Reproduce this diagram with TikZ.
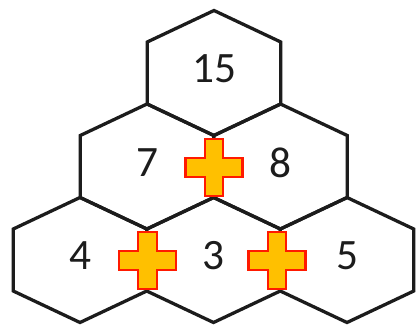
\documentclass[tikz,border=0pt]{standalone}
\usepackage{fontspec}
\setmainfont{Carlito}
\usetikzlibrary{positioning}
\definecolor{Edge}{HTML}{1C1C1C}
\definecolor{Amber}{HTML}{FFC000}
\definecolor{Scarlet}{HTML}{FF1A00}
\begin{document}
\begin{tikzpicture}[x=0.03cm,y=-0.03cm,hexline/.style={draw=Edge,line width=2.8pt,line join=miter},num/.style={font=\fontsize{37}{40}\selectfont,text=Edge,inner sep=0pt},plussign/.style={fill=Amber,draw=Scarlet,line width=2pt}]
\useasboundingbox[fill=white] (0,0) rectangle (419,324);
\foreach \cx/\cy/\val/\nm in {214/73/15/top,147/166.5/7/midl,280.5/166.5/8/midr,80/260/4/botl,213.5/260/3/botm,347/260/5/botr}{
\draw[hexline] (\cx-66.75,\cy-31) -- (\cx,\cy-62.5) -- (\cx+66.75,\cy-31) -- (\cx+66.75,\cy+31) -- (\cx,\cy+62.5) -- (\cx-66.75,\cy+31) -- cycle;
\node[num] (\nm) at (\cx,\cy-4){\val};
}
\foreach \px/\py/\nm in {214/167.5/plustop,147.5/260.5/plusleft,277/260.5/plusright}{
\coordinate (\nm) at (\px,\py);
\draw[plussign] (\nm) ++(-9.25,-28.5) -- ++(18.5,0) -- ++(0,19.25) -- ++(19.25,0) -- ++(0,18.5) -- ++(-19.25,0) -- ++(0,19.25) -- ++(-18.5,0) -- ++(0,-19.25) -- ++(-19.25,0) -- ++(0,-18.5) -- ++(19.25,0) -- cycle;
}
\end{tikzpicture}
\end{document}
